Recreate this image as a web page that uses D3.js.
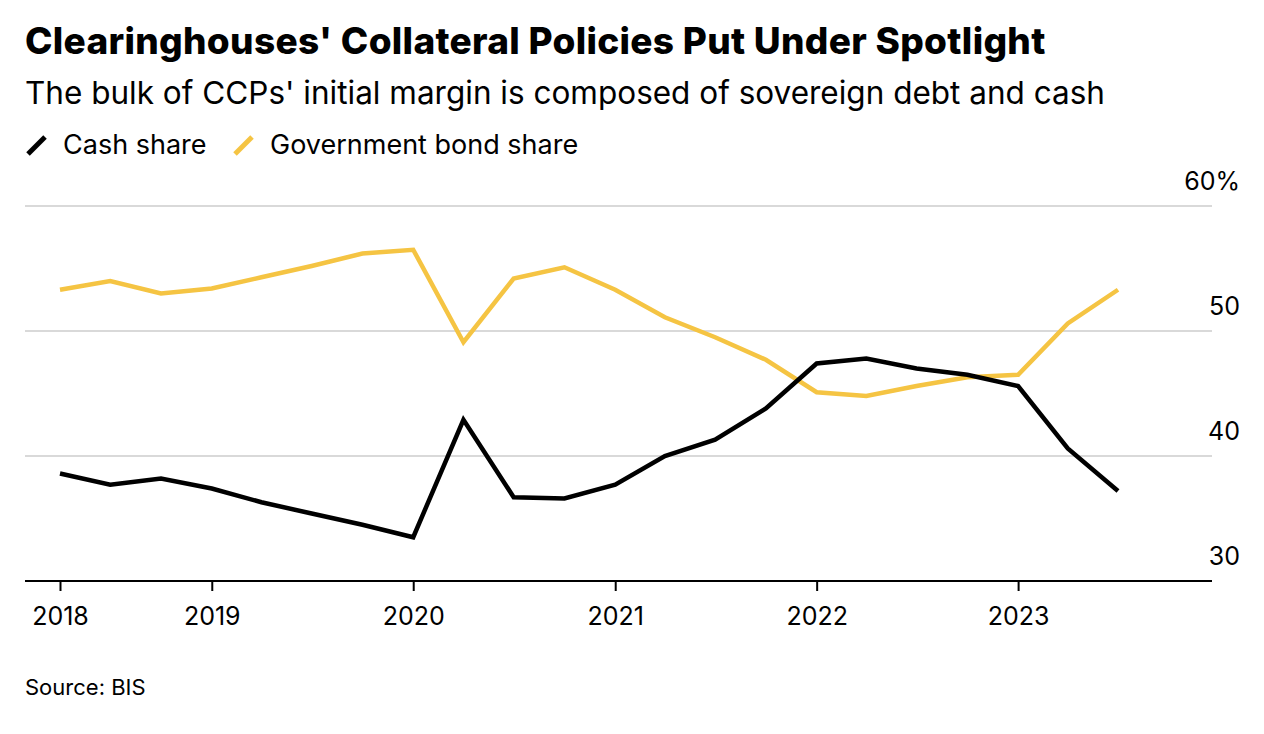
<!DOCTYPE html>
<html><head><meta charset="utf-8">
<script src="https://cdn.jsdelivr.net/npm/d3@7"></script>
<style>body{margin:0;background:#fff;font-family:Inter,"Noto Sans",sans-serif;}</style>
</head><body><svg></svg>
<script>
let dates = ["2018-04","2018-07","2018-10","2019-01","2019-04","2019-07","2019-10","2020-01","2020-04","2020-07","2020-10","2021-01","2021-04","2021-07","2021-10","2022-01","2022-04","2022-07","2022-10","2023-01","2023-04","2023-07"];
let cash = [38.6,37.7,38.2,37.4,36.3,35.4,34.5,33.5,42.9,36.7,36.6,37.7,40.0,41.3,43.8,47.4,47.8,47.0,46.5,45.6,40.6,37.2];
let govt = [53.3,54.0,53.0,53.4,54.3,55.2,56.2,56.5,49.1,54.2,55.1,53.3,51.1,49.5,47.7,45.1,44.8,45.6,46.3,46.5,50.6,53.3];
let yTicks = [30,40,50,60];
let xTickDates = ["2018-04","2019-01","2020-01","2021-01","2022-01","2023-01"];
let xTickLabels = ["2018","2019","2020","2021","2022","2023"];

let width = 1264, height = 734;
let parse = d3.timeParse("%Y-%m");
let svg = d3.select("svg").attr("width", width).attr("height", height);

let xScale = d3.scaleTime().domain([parse("2018-04"), parse("2023-07")]).range([60, 1118]);
let yScale = d3.scaleLinear().domain([30, 60]).range([581, 206]);

svg.append("text").attr("x", 25).attr("y", 54).attr("font-size", 37).attr("font-weight", 800)
  .attr("letter-spacing", 0.3)
  .text("Clearinghouses' Collateral Policies Put Under Spotlight");
svg.append("text").attr("x", 25).attr("y", 104).attr("font-size", 31.5)
  .text("The bulk of CCPs' initial margin is composed of sovereign debt and cash");

// legend
let legend = [{t: "Cash share", c: "#000", x: 25}, {t: "Government bond share", c: "#f5c443", x: 232}];
legend.forEach(l => {
  svg.append("line").attr("x1", l.x + 3).attr("y1", 154).attr("x2", l.x + 20).attr("y2", 137)
    .attr("stroke", l.c).attr("stroke-width", 5);
  svg.append("text").attr("x", l.x + 38).attr("y", 154).attr("font-size", 27).text(l.t);
});

// grid + y labels
yTicks.forEach(v => {
  if (v > 30) svg.append("line").attr("x1", 25).attr("x2", 1212).attr("y1", yScale(v)).attr("y2", yScale(v))
    .attr("stroke", "#d9d9d9").attr("stroke-width", 2);
  svg.append("text").attr("x", 1240).attr("y", yScale(v) - 16).attr("text-anchor", "end")
    .attr("font-size", 25).text(v === 60 ? "60%" : v);
});

// x axis
let xAxis = d3.axisBottom(xScale).tickValues(xTickDates.map(parse))
  .tickFormat((d, i) => xTickLabels[i]).tickSize(10).tickSizeOuter(0);
let gx = svg.append("g").attr("transform", "translate(0,581)").call(xAxis);
gx.select(".domain").attr("d", "M25,0H1212").attr("stroke", "#000").attr("stroke-width", 2);
gx.selectAll(".tick line").attr("stroke", "#000").attr("stroke-width", 2);
gx.selectAll(".tick text").attr("font-size", 25).attr("font-family", "Inter,'Noto Sans',sans-serif")
  .attr("dy", "1.25em").attr("fill", "#000");

let line = d3.line().x((d, i) => xScale(parse(dates[i]))).y(d => yScale(d));
svg.append("path").attr("d", line(govt)).attr("fill", "none").attr("stroke", "#f5c443").attr("stroke-width", 4.5);
svg.append("path").attr("d", line(cash)).attr("fill", "none").attr("stroke", "#000").attr("stroke-width", 4.5);

svg.append("text").attr("x", 25).attr("y", 695).attr("font-size", 22).text("Source: BIS");
</script></body></html>
